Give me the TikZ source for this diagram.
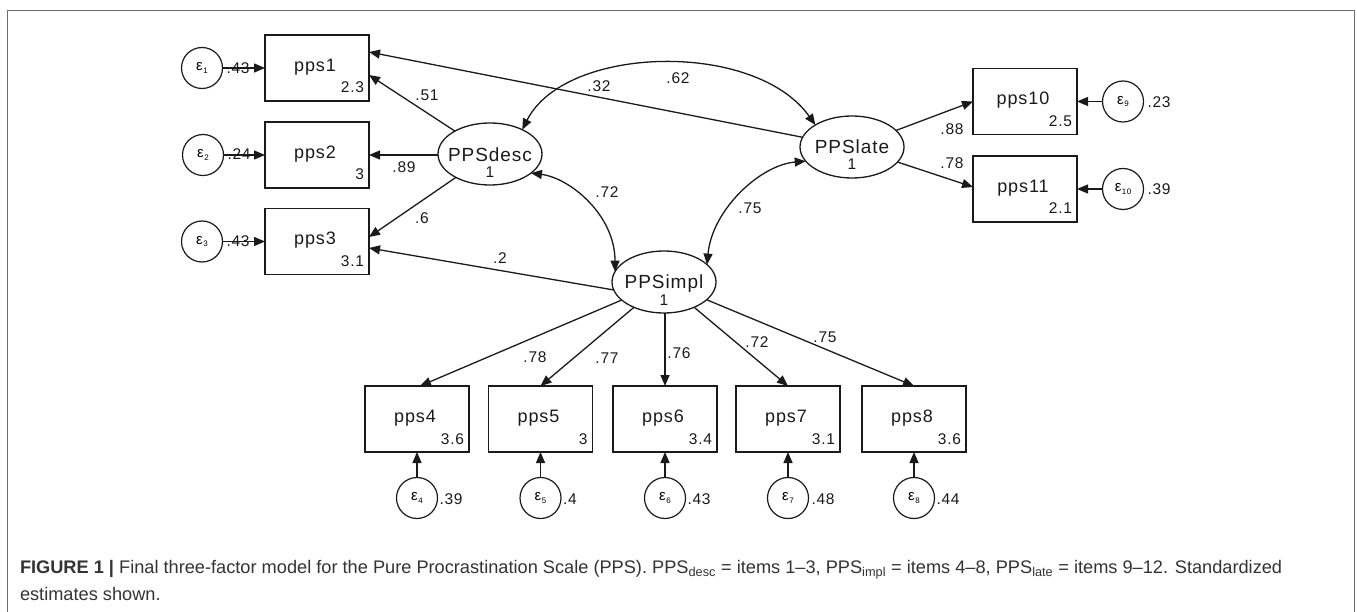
\documentclass[tikz,border=0pt]{standalone}
\usepackage{fontspec}
\setmainfont{Liberation Sans}
\newfontfamily\semfont[LetterSpace=5]{Liberation Sans}
\usetikzlibrary{arrows.meta,shapes.geometric,calc}
\definecolor{ink}{HTML}{1A1A1A}
\definecolor{captxt}{HTML}{333333}
\definecolor{framegray}{HTML}{6E6E6E}
% error term label: epsilon with a small lowered index
\newcommand{\errlab}[1]{\semfont\fontsize{15}{15}\selectfont ε\kern0.5pt\raisebox{-2.5pt}{\fontsize{8}{8}\selectfont #1}}
\begin{document}
\begin{tikzpicture}[x=1pt,y=-1pt,
  every node/.style={inner sep=0pt, outer sep=0pt},
  obs/.style={draw=ink, line width=1.3pt, minimum width=104pt, minimum height=66pt},
  latent/.style={draw=ink, ellipse, line width=1.3pt, minimum width=104pt, minimum height=62pt},
  err/.style={draw=ink, circle, line width=1.2pt, minimum size=41pt},
  vname/.style={font=\semfont\fontsize{18}{18}\selectfont, text=ink},
  lname/.style={font=\semfont\fontsize{19}{19}\selectfont, text=ink},
  num/.style={font=\semfont\fontsize{15.5}{15.5}\selectfont, text=ink},
  load/.style={draw=ink, line width=1.3pt, -{Triangle[length=11pt,width=9pt]}},
  cov/.style={draw=ink, line width=1.3pt, {Triangle[length=11pt,width=9pt]}-{Triangle[length=11pt,width=9pt]}},
  capfont/.style={font=\fontsize{18.2}{18.2}\selectfont, text=captxt},
]
\useasboundingbox (0,0) rectangle (1357,612);

% outer frame, open at the bottom
\draw[framegray, line width=1pt] (7.5,612) -- (7.5,10.5) -- (1354.5,10.5) -- (1354.5,612);

% observed items: name / x / y / intercept
\foreach \n/\x/\y/\c in {pps1/317/68/2.3, pps2/317/155/3, pps3/317/241.5/3.1,
                         pps10/1025/101.5/2.5, pps11/1025/189/2.1,
                         pps4/417/419/3.6, pps5/540.5/419/3, pps6/665/419/3.4,
                         pps7/788/419/3.1, pps8/914/419/3.6}{
  \node[obs] (\n) at (\x,\y) {};
  \node[vname] (\n-name) at ($(\n.center)+(-2,-1)$) {\n};
  \node[num, anchor=base east] (\n-icpt) at ($(\n.south east)+(-5,-8)$) {\c};
}

% latent factors
\node[latent] (desc) at (490,154) {};
\node[lname] (desc-name) at ($(desc.center)+(0,1)$) {PPSdesc};
\node[num] (desc-var) at ($(desc.center)+(0,18)$) {1};
\node[latent] (late) at (852,147) {};
\node[lname] (late-name) at ($(late.center)+(0,0)$) {PPSlate};
\node[num] (late-var) at ($(late.center)+(0,17)$) {1};
\node[latent] (impl) at (664,282) {};
\node[lname] (impl-name) at ($(impl.center)+(0,2)$) {PPSimpl};
\node[num] (impl-var) at ($(impl.center)+(0,18)$) {1};

% error terms: name / x / y / index
\foreach \n/\x/\y/\k in {e1/202/68/1, e2/203/155/2, e3/202/241.5/3,
                         e9/1123/101.5/9, e10/1123/189/10,
                         e4/417/498/4, e5/540.5/498/5, e6/665/498/6,
                         e7/788/498/7, e8/914/498/8}{
  \node[err] (\n) at (\x,\y) {\errlab{\k}};
}

% error arrows
\foreach \e/\v in {e1/pps1, e2/pps2, e3/pps3}{
  \draw[load] (\e) -- (\v.west);
}
\foreach \e/\v in {e9/pps10, e10/pps11}{
  \draw[load] (\e) -- (\v.east);
}
\foreach \e/\v in {e4/pps4, e5/pps5, e6/pps6, e7/pps7, e8/pps8}{
  \draw[load] (\e) -- (\v.south);
}

% error variances
\node[num, anchor=west] (e1-v) at ($(e1.east)+(4,0)$) {.43};
\node[num, anchor=west] (e2-v) at ($(e2.east)+(4,-1)$) {.24};
\node[num, anchor=west] (e3-v) at ($(e3.east)+(4,0)$) {.43};
\node[num, anchor=west] (e9-v) at ($(e9.east)+(4,1)$) {.23};
\node[num, anchor=west] (e10-v) at ($(e10.east)+(4,0)$) {.39};
\node[num, anchor=west] (e4-v) at ($(e4.east)+(2,1)$) {.39};
\node[num, anchor=west] (e5-v) at ($(e5.east)+(2,1)$) {.4};
\node[num, anchor=west] (e6-v) at ($(e6.east)+(2,1)$) {.43};
\node[num, anchor=west] (e7-v) at ($(e7.east)+(3,1)$) {.48};
\node[num, anchor=west] (e8-v) at ($(e8.east)+(2,1)$) {.44};

% factor loadings
\draw[load] (desc) -- ($(pps1.east)+(0,7)$);
\draw[load] (desc.west |- pps2.east) -- (pps2.east);
\draw[load] (desc) -- ($(pps3.east)+(0,-4.5)$);
\draw[load] (late) -- ($(pps1.east)+(0,-16)$);
\draw[load] ($(impl.west)+(2,8)$) -- ($(pps3.east)+(0,6.5)$);
\draw[load] (late) -- (pps10.west);
\draw[load] (late) -- ($(pps11.west)+(0,-2)$);
\draw[load] (impl) -- ($(pps4.north)+(3,0)$);
\draw[load] (impl) -- (pps5.north);
\draw[load] (impl.south -| pps6.north) -- (pps6.north);
\draw[load] (impl) -- (pps7.north);
\draw[load] (impl) -- (pps8.north);

% factor covariances
\draw[cov] (desc.37) .. controls (565,45) and (755,40) .. (late.149);
\draw[cov] (desc.-25) .. controls (570,178) and (615,215) .. (impl.168);
\draw[cov] (late.197) .. controls (760,165) and (712,210) .. (impl.22);

% estimates on the paths
\node[num] (l-d1) at (427,95) {.51};
\node[num] (l-d2) at (404,167) {.89};
\node[num] (l-d3) at (422,218) {.6};
\node[num] (l-l1) at (599,86) {.32};
\node[num] (c-dl) at (678,78) {.62};
\node[num] (c-di) at (607,192) {.72};
\node[num] (c-li) at (750,208) {.75};
\node[num] (l-i3) at (500,258) {.2};
\node[num] (l-l10) at (952,129) {.88};
\node[num] (l-l11) at (952,163) {.78};
\node[num] (l-i4) at (535,357) {.78};
\node[num] (l-i5) at (607,358) {.77};
\node[num] (l-i6) at (679,353) {.76};
\node[num] (l-i7) at (757,342) {.72};
\node[num] (l-i8) at (825,337) {.75};

% caption
\node[capfont, anchor=base west] (cap1) at (20,573)
  {\textbf{FIGURE 1 |} Final three-factor model for the Pure Procrastination Scale (PPS). PPS\textsubscript{desc} = items 1–3, PPS\textsubscript{impl} = items 4–8, PPS\textsubscript{late} = items 9–12. Standardized};
\node[capfont, anchor=base west] (cap2) at (20,600) {estimates shown.};
\end{tikzpicture}
\end{document}
